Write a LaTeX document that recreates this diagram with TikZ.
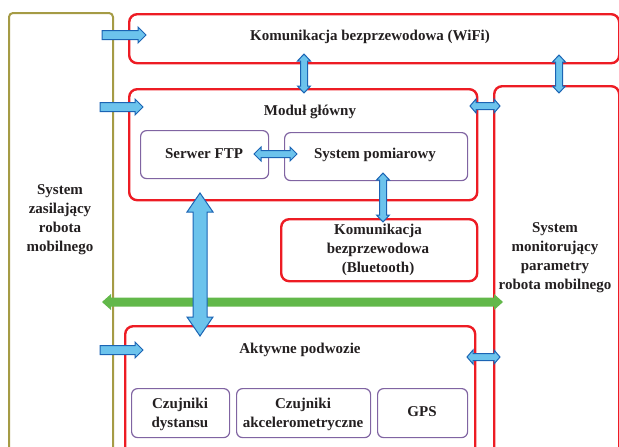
\documentclass[tikz,border=0pt]{standalone}
\usepackage{fontspec}
\setmainfont{Liberation Serif}
\usetikzlibrary{calc}
\definecolor{boxred}{HTML}{ED1C24}
\definecolor{boxolive}{HTML}{A59B45}
\definecolor{boxpurple}{HTML}{8064A2}
\definecolor{arrfill}{HTML}{6CC3EC}
\definecolor{arrdraw}{HTML}{1B64B4}
\definecolor{arrgreen}{HTML}{62B84A}
\definecolor{txtcol}{HTML}{231F20}
% vertical double block arrow: style, top, bottom, shaft half, head half, head length
\newcommand\blkV[6]{\path[#1] let \p1=(#2), \p2=(#3) in
 (\x1,\y1) -- (\x1+#5,\y1-#6) -- (\x1+#4,\y1-#6) -- (\x1+#4,\y2+#6) -- (\x1+#5,\y2+#6) -- (\x1,\y2)
 -- (\x1-#5,\y2+#6) -- (\x1-#4,\y2+#6) -- (\x1-#4,\y1-#6) -- (\x1-#5,\y1-#6) -- cycle;}
% horizontal double block arrow: style, left, right, shaft half, head half, head length
\newcommand\blkH[6]{\path[#1] let \p1=(#2), \p2=(#3) in
 (\x1,\y1) -- (\x1+#6,\y1+#5) -- (\x1+#6,\y1+#4) -- (\x2-#6,\y1+#4) -- (\x2-#6,\y1+#5) -- (\x2,\y1)
 -- (\x2-#6,\y1-#5) -- (\x2-#6,\y1-#4) -- (\x1+#6,\y1-#4) -- (\x1+#6,\y1-#5) -- cycle;}
% right single block arrow
\newcommand\blkR[6]{\path[#1] let \p1=(#2), \p2=(#3) in
 (\x1,\y1+#4) -- (\x2-#6,\y1+#4) -- (\x2-#6,\y1+#5) -- (\x2,\y1)
 -- (\x2-#6,\y1-#5) -- (\x2-#6,\y1-#4) -- (\x1,\y1-#4) -- cycle;}
\tikzset{
 redbox/.style={draw=boxred, line width=2.4pt, rounded corners=8pt, inner sep=0pt, anchor=north west},
 olivebox/.style={draw=boxolive, line width=2pt, rounded corners=4pt, inner sep=0pt, anchor=north west},
 purplebox/.style={draw=boxpurple, line width=1.2pt, rounded corners=6pt, inner sep=0pt, anchor=north west},
 txt/.style={font=\fontsize{15}{19}\selectfont\bfseries, align=center, text=txtcol, inner sep=0pt},
 barrow/.style={fill=arrfill, draw=arrdraw, line width=1pt, line join=miter},
 garrow/.style={fill=arrgreen},
}
\begin{document}
\begin{tikzpicture}[x=1pt,y=-1pt]
\useasboundingbox (0,0) rectangle (619,447);
% boxes
\node[olivebox, minimum width=104pt, minimum height=460pt] (power) at (8,12) {};
\node[redbox, minimum width=490pt, minimum height=49pt] (wifi) at (128,13) {};
\node[redbox, minimum width=348pt, minimum height=111pt] (main) at (128,88) {};
\node[purplebox, minimum width=128pt, minimum height=48pt] (ftp) at (140,130) {};
\node[purplebox, minimum width=183pt, minimum height=48pt] (meas) at (284,132) {};
\node[redbox, minimum width=196pt, minimum height=62pt] (bt) at (280,218) {};
\node[redbox, minimum width=125pt, minimum height=400pt] (mon) at (493,85) {};
\node[redbox, minimum width=350pt, minimum height=150pt] (chassis) at (124,325) {};
\node[purplebox, minimum width=98pt, minimum height=49pt] (dist) at (131,388) {};
\node[purplebox, minimum width=134pt, minimum height=49pt] (acc) at (236,388) {};
\node[purplebox, minimum width=90pt, minimum height=49pt] (gps) at (377,388) {};
% texts
\node[txt] (twifi) at (370,37) {Komunikacja bezprzewodowa (WiFi)};
\node[txt] (tmain) at (310,112) {Moduł główny};
\node[txt] (tftp) at (204,154) {Serwer FTP};
\node[txt] (tmeas) at (375,155) {System pomiarowy};
\node[txt] (tbt) at (378,250) {Komunikacja\\bezprzewodowa\\(Bluetooth)};
\node[txt] (tpower) at (60,220) {System\\zasilający\\robota\\mobilnego};
\node[txt] (tmon) at (555,258) {System\\monitorujący\\parametry\\robota mobilnego};
\node[txt] (tchassis) at (300,350) {Aktywne podwozie};
\node[txt] (tdist) at (180,414) {Czujniki\\dystansu};
\node[txt] (tacc) at (303,414) {Czujniki\\akcelerometryczne};
\node[txt] (tgps) at (422,412) {GPS};
% arrow end points
\coordinate (p1a) at (102,35);  \coordinate (p1b) at (146,35);
\coordinate (p2a) at (100,107); \coordinate (p2b) at (143,107);
\coordinate (p3a) at (100,350); \coordinate (p3b) at (143,350);
\coordinate (wm1) at (304,54);  \coordinate (wm2) at (304,93);
\coordinate (wn1) at (559,55);  \coordinate (wn2) at (559,93);
\coordinate (mn1) at (470,106); \coordinate (mn2) at (500,106);
\coordinate (fm1) at (254,154); \coordinate (fm2) at (297,154);
\coordinate (mb1) at (383,173); \coordinate (mb2) at (383,222);
\coordinate (ch1) at (467,357); \coordinate (ch2) at (500,357);
\coordinate (g1) at (102,302);  \coordinate (g2) at (503,302);
\coordinate (bg1) at (200,193); \coordinate (bg2) at (200,336);
% green bus
\blkH{garrow}{g1}{g2}{4.5pt}{8pt}{9pt}
% blue arrows
\blkR{barrow}{p1a}{p1b}{4.5pt}{8pt}{8pt}
\blkR{barrow}{p2a}{p2b}{4.5pt}{8pt}{8pt}
\blkR{barrow}{p3a}{p3b}{4.5pt}{8pt}{8pt}
\blkV{barrow}{wm1}{wm2}{3.5pt}{6.5pt}{7pt}
\blkV{barrow}{wn1}{wn2}{3.5pt}{6.5pt}{7pt}
\blkV{barrow}{mb1}{mb2}{3.5pt}{6.5pt}{7pt}
\blkH{barrow}{mn1}{mn2}{3.5pt}{7pt}{6pt}
\blkH{barrow}{fm1}{fm2}{3.5pt}{7pt}{7pt}
\blkH{barrow}{ch1}{ch2}{3.5pt}{7pt}{6pt}
\blkV{barrow}{bg1}{bg2}{7pt}{13pt}{19pt}
\end{tikzpicture}
\end{document}
